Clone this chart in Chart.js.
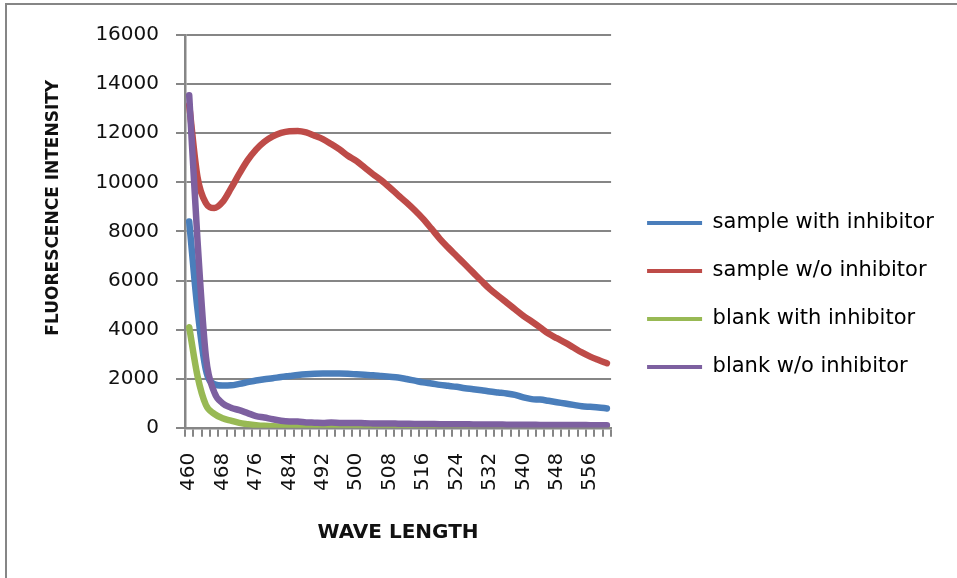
<!DOCTYPE html>
<html>
<head>
<meta charset="utf-8">
<script src="https://cdn.jsdelivr.net/npm/chart.js@4.4.1/dist/chart.umd.min.js"></script>
<style>
  html, body { margin: 0; padding: 0; background: #fff; }
  #wrap { position: relative; width: 957px; height: 578px; overflow: hidden; }
  /* cadre gris autour du graphique */
  #cadre { position: absolute; left: 5px; top: 3px; width: 1000px; height: 700px;
           border-top: 2px solid #868686; border-left: 2px solid #868686; pointer-events: none; }
</style>
</head>
<body>
<div id="wrap">
  <canvas id="spectre" width="957" height="578"></canvas>
  <div id="cadre"></div>
</div>
<script>
// ==================== DONNÉES ====================

const longueursOnde = [
  460, 462, 464, 466, 468, 470, 472, 474, 476, 478,
  480, 482, 484, 486, 488, 490, 492, 494, 496, 498,
  500, 502, 504, 506, 508, 510, 512, 514, 516, 518,
  520, 522, 524, 526, 528, 530, 532, 534, 536, 538,
  540, 542, 544, 546, 548, 550, 552, 554, 556, 558, 560
];

// longueurs d'onde affichées sous l'axe
const etiquettesX = [460, 468, 476, 484, 492, 500, 508, 516, 524, 532, 540, 548, 556];

// graduations de l'axe des intensités
const graduationsY = [0, 2000, 4000, 6000, 8000, 10000, 12000, 14000, 16000];

const echantillonAvecInhibiteur = [
  8400, 4800, 2350, 1780, 1720, 1730, 1790, 1860, 1930, 1980,
  2020, 2070, 2110, 2150, 2180, 2200, 2210, 2215, 2210, 2200,
  2180, 2160, 2140, 2110, 2080, 2050, 1990, 1920, 1850, 1805,
  1750, 1710, 1670, 1615, 1575, 1530, 1480, 1440, 1400, 1340,
  1240, 1170, 1150, 1100, 1045, 990, 935, 880, 855, 830, 790
];

const echantillonSansInhibiteur = [
  13150, 10200, 9150, 8950, 9200, 9750, 10350, 10900, 11330, 11650,
  11870, 12010, 12080, 12090, 12030, 11900, 11760, 11560, 11340, 11080,
  10870, 10600, 10330, 10080, 9790, 9480, 9180, 8860, 8510, 8110,
  7700, 7340, 7000, 6660, 6320, 5980, 5650, 5370, 5100, 4830,
  4560, 4330, 4090, 3840, 3650, 3470, 3270, 3070, 2900, 2760, 2630
];

const blancAvecInhibiteur = [
  4100, 2100, 930, 570, 390, 290, 200, 150, 110, 80,
  60, 50, 40, 35, 30, 30, 25, 25, 25, 20,
  20, 20, 20, 20, 20, 15, 15, 15, 15, 15,
  15, 15, 15, 15, 15, 10, 10, 10, 10, 10,
  10, 10, 10, 10, 10, 10, 10, 10, 10, 10, 10
];

const blancSansInhibiteur = [
  13550, 7600, 2900, 1450, 1000, 820, 720, 600, 480, 420,
  350, 290, 260, 255, 220, 210, 200, 215, 200, 195,
  200, 185, 180, 175, 175, 170, 165, 160, 160, 155,
  150, 150, 145, 145, 140, 140, 135, 135, 130, 130,
  125, 125, 120, 120, 120, 115, 115, 115, 110, 110, 110
];

// ==================== STYLE ====================

Chart.defaults.font.family = "'DejaVu Sans', sans-serif";
Chart.defaults.color = '#111';

const GRIS = '#868686';

function serie(label, valeurs, couleur, ordre) {
  return {
    label: label,
    data: valeurs,
    borderColor: couleur,
    backgroundColor: couleur,
    borderWidth: 6.5,
    borderCapStyle: 'round',
    borderJoinStyle: 'round',
    cubicInterpolationMode: 'monotone',
    pointRadius: 0,
    fill: false,
    order: ordre // la dernière série passe au-dessus des autres
  };
}

// Décale la légende : un peu d'espace entre la zone de tracé et les traits
const decalageLegende = {
  id: 'decalageLegende',
  afterLayout(chart) {
    const leg = chart.legend;
    leg.left += 9;
    leg.right += 9;
    leg.top += 5;
    leg.bottom += 5;
  }
};

// ==================== GRAPHIQUE ====================

new Chart(document.getElementById('spectre'), {
  type: 'line',
  data: {
    labels: longueursOnde,
    datasets: [
      serie('sample with inhibitor', echantillonAvecInhibiteur, '#4A7EBB', 4),
      serie('sample w/o inhibitor', echantillonSansInhibiteur, '#BE4B48', 3),
      serie('blank with inhibitor', blancAvecInhibiteur, '#98B954', 2),
      serie('blank w/o inhibitor', blancSansInhibiteur, '#7D60A0', 1)
    ]
  },
  options: {
    responsive: false,
    animation: false,
    devicePixelRatio: 1,
    layout: { padding: { top: 35, right: 22, bottom: 33, left: 20 } },
    plugins: {
      tooltip: { enabled: false },
      legend: {
        position: 'right',
        maxWidth: 340, // sinon la légende est limitée au quart de la largeur
        labels: {
          boxWidth: 55,
          boxHeight: 4,
          padding: 27,
          font: { size: 21 },
          // garder l'ordre des séries, avec un simple trait de couleur
          generateLabels: ch => ch.data.datasets.map((ds, i) => ({
            text: ds.label,
            fillStyle: ds.borderColor,
            strokeStyle: ds.borderColor,
            lineWidth: 0,
            hidden: false,
            datasetIndex: i
          }))
        }
      }
    },
    scales: {
      x: {
        offset: true,
        grid: { offset: true, drawOnChartArea: false, tickLength: 9, color: GRIS, lineWidth: 2 },
        border: { color: GRIS, width: 2.5 },
        ticks: {
          autoSkip: false,
          minRotation: 90,
          maxRotation: 90,
          padding: 16,
          font: { size: 20 },
          callback: function (val) {
            const lo = this.getLabelForValue(val);
            return etiquettesX.includes(lo) ? String(lo) : '';
          }
        },
        title: {
          display: true,
          text: 'WAVE LENGTH',
          font: { size: 20, weight: 'bold' },
          padding: { top: 14, bottom: 0 }
        }
      },
      y: {
        min: graduationsY[0],
        max: graduationsY[graduationsY.length - 1],
        grid: { color: GRIS, lineWidth: 2, tickLength: 9 },
        border: { color: GRIS, width: 2.5 },
        ticks: {
          stepSize: graduationsY[1] - graduationsY[0],
          padding: 17,
          font: { size: 20 },
          callback: v => String(v)
        },
        title: {
          display: true,
          // espaces insécables en tête : remonte le titre vers le haut de l'axe
          text: '\u00a0'.repeat(8) + 'FLUORESCENCE INTENSITY',
          font: { size: 17, weight: 'bold' },
          padding: { top: 23, bottom: 15 }
        }
      }
    }
  },
  plugins: [decalageLegende]
});
</script>
</body>
</html>
